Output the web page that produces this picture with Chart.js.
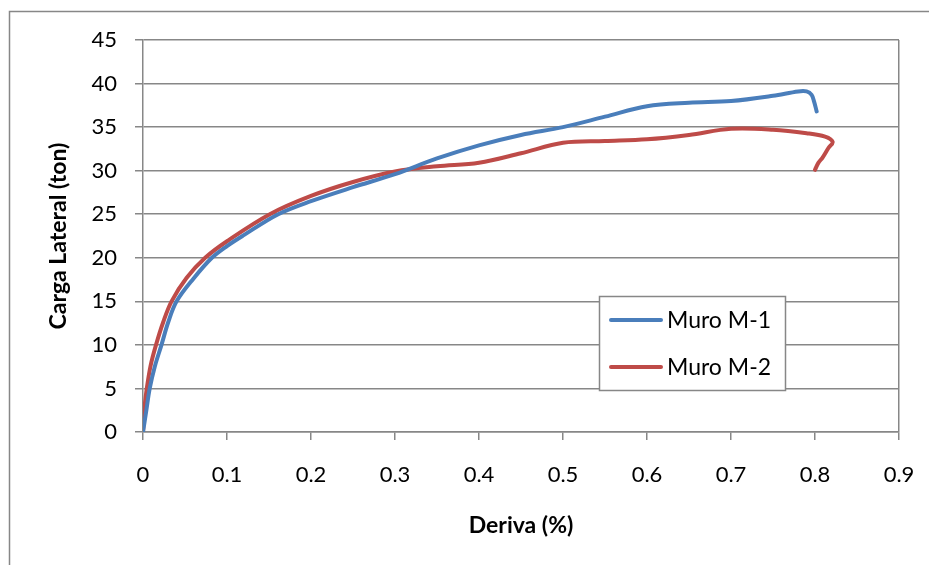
<!DOCTYPE html>
<html>
<head>
<meta charset="utf-8">
<script src="https://cdn.jsdelivr.net/npm/chart.js@4/dist/chart.umd.min.js"></script>
<style>
  html, body { margin: 0; padding: 0; background: #fff; }
  #wrap { width: 929px; height: 565px; }
</style>
</head>
<body>
<div id="wrap"><canvas id="c" width="929" height="565"></canvas></div>
<script>
// Lateral load vs drift for the two tested walls
const seriesNames = ['Muro M-1', 'Muro M-2'];

const driftM1 = [0, 0.004, 0.008, 0.014, 0.022, 0.03, 0.04, 0.06, 0.082, 0.1, 0.12, 0.161, 0.2, 0.25, 0.3, 0.35, 0.4, 0.45, 0.5, 0.55, 0.6, 0.65, 0.7, 0.75, 0.78, 0.79, 0.796, 0.799, 0.802];
const loadM1  = [0, 2.5, 5, 7.5, 10, 12.6, 15, 17.6, 20, 21.35, 22.6, 25, 26.5, 28.1, 29.6, 31.4, 32.9, 34.1, 35.0, 36.2, 37.4, 37.8, 38.0, 38.6, 39.1, 39.1, 38.7, 37.9, 36.8];

const driftM2 = [0, 0.002, 0.0045, 0.009, 0.0155, 0.024, 0.034, 0.052, 0.074, 0.1, 0.151, 0.2, 0.25, 0.3, 0.35, 0.4, 0.45, 0.5, 0.55, 0.6, 0.65, 0.7, 0.75, 0.79, 0.812, 0.821, 0.816, 0.809, 0.804, 0.80];
const loadM2  = [0, 3, 5, 7.6, 10, 12.6, 15, 17.7, 20, 21.9, 25, 27.1, 28.7, 29.9, 30.5, 30.9, 32.0, 33.2, 33.4, 33.6, 34.1, 34.8, 34.7, 34.3, 33.9, 33.3, 32.6, 31.5, 30.9, 30.1];

const xTicks = [0, 0.1, 0.2, 0.3, 0.4, 0.5, 0.6, 0.7, 0.8, 0.9];
const yTicks = [0, 5, 10, 15, 20, 25, 30, 35, 40, 45];

const xTitle = 'Deriva (%)';
const yTitle = 'Carga Lateral (ton)';

const GRAY = '#878787';
const FONT = 'Lato, "Open Sans", sans-serif';

const toPoints = (xs, ys) => xs.map((x, i) => ({ x: x, y: ys[i] }));

// Outer frame of the chart object
const framePlugin = {
  id: 'frame',
  beforeDraw(chart) {
    const ctx = chart.ctx;
    ctx.save();
    ctx.fillStyle = '#fff';
    ctx.fillRect(0, 0, chart.width, chart.height);
    ctx.strokeStyle = GRAY;
    ctx.lineWidth = 1.5;
    ctx.strokeRect(9.5, 11.5, chart.width + 50, chart.height + 50);
    ctx.restore();
  }
};

// Boxed legend drawn inside the plot area
const boxLegendPlugin = {
  id: 'boxLegend',
  afterDatasetsDraw(chart) {
    const ctx = chart.ctx;
    const box = { x: 599.5, y: 296.5, w: 186, h: 94 };
    ctx.save();
    ctx.fillStyle = '#fff';
    ctx.fillRect(box.x, box.y, box.w, box.h);
    ctx.strokeStyle = GRAY;
    ctx.lineWidth = 1.5;
    ctx.strokeRect(box.x, box.y, box.w, box.h);
    const rows = [320, 367];
    chart.data.datasets.forEach((ds, i) => {
      const y = rows[i];
      ctx.strokeStyle = ds.borderColor;
      ctx.lineWidth = 4;
      ctx.lineCap = 'round';
      ctx.beginPath();
      ctx.moveTo(611, y);
      ctx.lineTo(661, y);
      ctx.stroke();
      ctx.fillStyle = '#000';
      ctx.font = '23px ' + FONT;
      ctx.textBaseline = 'middle';
      ctx.textAlign = 'left';
      ctx.fillText(ds.label, 667, y + 1);
    });
    ctx.restore();
  }
};

new Chart(document.getElementById('c'), {
  type: 'scatter',
  data: {
    datasets: [
      {
        label: seriesNames[0],
        data: toPoints(driftM1, loadM1),
        showLine: true,
        borderColor: '#4A7EBB',
        backgroundColor: '#4A7EBB',
        borderWidth: 4,
        pointRadius: 0,
        tension: 0.35,
        borderCapStyle: 'round',
        borderJoinStyle: 'round'
      },
      {
        label: seriesNames[1],
        data: toPoints(driftM2, loadM2),
        showLine: true,
        borderColor: '#BE4B48',
        backgroundColor: '#BE4B48',
        borderWidth: 4,
        pointRadius: 0,
        tension: 0.35,
        borderCapStyle: 'round',
        borderJoinStyle: 'round'
      }
    ]
  },
  options: {
    responsive: false,
    animation: false,
    layout: { padding: { left: 0, top: 40, right: 30, bottom: 0 } },
    plugins: {
      legend: { display: false },
      tooltip: { enabled: false }
    },
    scales: {
      x: {
        type: 'linear',
        min: xTicks[0],
        max: xTicks[xTicks.length - 1],
        afterBuildTicks(scale) { scale.ticks = xTicks.map(v => ({ value: v })); },
        afterFit(scale) {
          scale.height = 133;
          scale.paddingLeft = 0;
          scale.paddingRight = 0;
        },
        border: { display: true, color: GRAY, width: 1.5 },
        grid: {
          drawOnChartArea: true,
          drawTicks: true,
          tickLength: 8,
          lineWidth: 1.5,
          color: (c) => (c.tick && c.tick.value === xTicks[xTicks.length - 1]) ? GRAY : 'rgba(0,0,0,0)',
          tickColor: GRAY
        },
        ticks: {
          padding: 22,
          maxRotation: 0,
          color: '#000',
          font: { family: FONT, size: 22 },
          callback: (v) => String(Math.round(v * 10) / 10)
        },
        title: {
          display: true,
          text: xTitle,
          color: '#000',
          font: { family: FONT, size: 23, weight: 'bold' },
          padding: { top: 0, bottom: 26 }
        }
      },
      y: {
        type: 'linear',
        min: yTicks[0],
        max: yTicks[yTicks.length - 1],
        afterBuildTicks(scale) { scale.ticks = yTicks.map(v => ({ value: v })); },
        afterFit(scale) {
          scale.width = 143;
          scale.paddingTop = 0;
          scale.paddingBottom = 0;
        },
        border: { display: true, color: GRAY, width: 1.5 },
        grid: {
          drawTicks: true,
          tickLength: 8,
          lineWidth: 1.5,
          color: GRAY,
          tickColor: GRAY
        },
        ticks: {
          padding: 18,
          color: '#000',
          font: { family: FONT, size: 22 }
        },
        title: {
          display: true,
          text: yTitle,
          color: '#000',
          font: { family: FONT, size: 23, weight: 'bold' },
          padding: { top: 45, bottom: 0 }
        }
      }
    }
  },
  plugins: [framePlugin, boxLegendPlugin]
});
</script>
</body>
</html>
